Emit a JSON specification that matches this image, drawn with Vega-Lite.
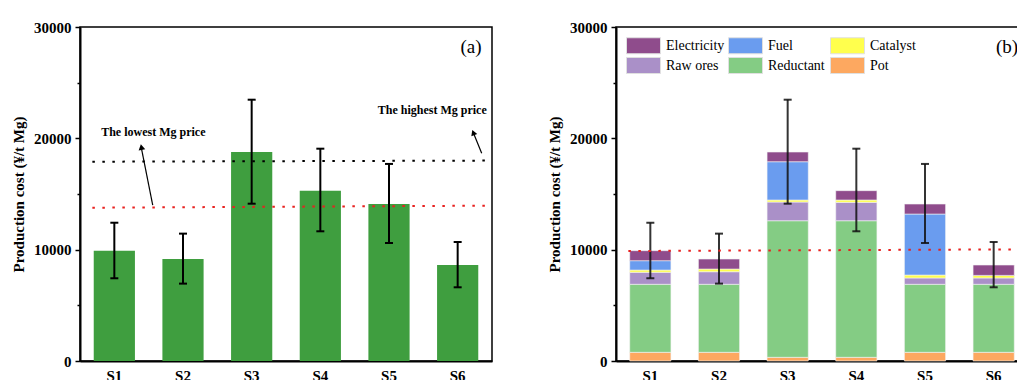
{
  "$schema": "https://vega.github.io/schema/vega-lite/v6.json",
  "padding": {"left": 10, "top": 19, "right": 0, "bottom": 0},
  "spacing": 53,
  "resolve": {"scale": {"color": "independent"}, "legend": {"color": "independent"}},
  "datasets": {
    "costs": [
      {"scenario": "S1", "total": 9910, "low": 7430, "high": 12420},
      {"scenario": "S2", "total": 9160, "low": 6950, "high": 11440},
      {"scenario": "S3", "total": 18770, "low": 14130, "high": 23470},
      {"scenario": "S4", "total": 15300, "low": 11650, "high": 19070},
      {"scenario": "S5", "total": 14100, "low": 10600, "high": 17700},
      {"scenario": "S6", "total": 8620, "low": 6620, "high": 10690}
    ],
    "parts": [
      {"scenario": "S1", "component": "Pot", "value": 780},
      {"scenario": "S1", "component": "Reductant", "value": 6110},
      {"scenario": "S1", "component": "Raw ores", "value": 1080},
      {"scenario": "S1", "component": "Catalyst", "value": 200},
      {"scenario": "S1", "component": "Fuel", "value": 840},
      {"scenario": "S1", "component": "Electricity", "value": 900},
      {"scenario": "S2", "component": "Pot", "value": 780},
      {"scenario": "S2", "component": "Reductant", "value": 6110},
      {"scenario": "S2", "component": "Raw ores", "value": 1130},
      {"scenario": "S2", "component": "Catalyst", "value": 240},
      {"scenario": "S2", "component": "Electricity", "value": 900},
      {"scenario": "S3", "component": "Pot", "value": 330},
      {"scenario": "S3", "component": "Reductant", "value": 12270},
      {"scenario": "S3", "component": "Raw ores", "value": 1680},
      {"scenario": "S3", "component": "Catalyst", "value": 180},
      {"scenario": "S3", "component": "Fuel", "value": 3440},
      {"scenario": "S3", "component": "Electricity", "value": 870},
      {"scenario": "S4", "component": "Pot", "value": 330},
      {"scenario": "S4", "component": "Reductant", "value": 12270},
      {"scenario": "S4", "component": "Raw ores", "value": 1650},
      {"scenario": "S4", "component": "Catalyst", "value": 210},
      {"scenario": "S4", "component": "Electricity", "value": 840},
      {"scenario": "S5", "component": "Pot", "value": 780},
      {"scenario": "S5", "component": "Reductant", "value": 6110},
      {"scenario": "S5", "component": "Raw ores", "value": 570},
      {"scenario": "S5", "component": "Catalyst", "value": 260},
      {"scenario": "S5", "component": "Fuel", "value": 5480},
      {"scenario": "S5", "component": "Electricity", "value": 900},
      {"scenario": "S6", "component": "Pot", "value": 780},
      {"scenario": "S6", "component": "Reductant", "value": 6110},
      {"scenario": "S6", "component": "Raw ores", "value": 570},
      {"scenario": "S6", "component": "Catalyst", "value": 230},
      {"scenario": "S6", "component": "Electricity", "value": 930}
    ],
    "lines": [
      {"line": "a_black", "fx": 0.03, "y": 17900},
      {"line": "a_black", "fx": 0.988, "y": 18000},
      {"line": "a_red", "fx": 0.03, "y": 13770},
      {"line": "a_red", "fx": 0.988, "y": 13950},
      {"line": "b_red", "fx": 0.03, "y": 9880},
      {"line": "b_red", "fx": 1.0, "y": 10030},
      {"line": "arrow1", "fx": 0.1765, "y": 14000},
      {"line": "arrow1", "fx": 0.149, "y": 19130},
      {"line": "arrow2", "fx": 0.975, "y": 18660},
      {"line": "arrow2", "fx": 0.955, "y": 20480}
    ],
    "notes": [
      {"id": "low", "fx": 0.178, "y": 20600, "label": "The lowest Mg price"},
      {"id": "high", "fx": 0.855, "y": 22550, "label": "The highest Mg price"},
      {"id": "head1", "fx": 0.149, "y": 19220, "label": ""},
      {"id": "head2", "fx": 0.9546, "y": 20520, "label": ""},
      {"id": "pa", "fx": 0.949, "y": 28200, "label": "(a)"},
      {"id": "pb", "fx": 0.949, "y": 28200, "label": "(b)"}
    ]
  },
  "config": {
    "font": "Liberation Serif",
    "view": {"stroke": "black", "strokeWidth": 1.5},
    "legend": {"labelFont": "Liberation Serif", "titleFont": "Liberation Serif"},
    "text": {"font": "Liberation Serif"},
    "axis": {
      "domainColor": "black", "domainWidth": 2, "tickColor": "black", "tickWidth": 1.5,
      "labelColor": "black", "titleColor": "black", "grid": false,
      "labelFont": "Liberation Serif", "titleFont": "Liberation Serif",
      "labelFontWeight": "bold", "labelFontSize": 15, "titleFontSize": 15, "titleFontWeight": "bold"
    }
  },
  "hconcat": [
    {
      "width": 412, "height": 334,
      "layer": [
        {
          "data": {"name": "costs"},
          "layer": [
            {
              "mark": {"type": "bar", "color": "#3F9E3F"},
              "encoding": {
                "x": {"field": "scenario", "type": "nominal", "scale": {"paddingInner": 0.4, "paddingOuter": 0.2}, "axis": {"title": null, "labelAngle": 0, "ticks": false, "labelPadding": 7}},
                "y": {"field": "total", "type": "quantitative", "scale": {"domain": [0, 30000], "nice": false},
                  "axis": {"title": "Production cost (¥/t Mg)", "values": [0, 5000, 10000, 15000, 20000, 25000, 30000],
                    "labelExpr": "datum.value % 10000 === 0 ? datum.value : ''",
                    "tickSize": {"condition": {"test": "datum.value % 10000 === 0", "value": 5}, "value": 3},
                    "labelPadding": 4, "titlePadding": 7}}
              }
            },
            {
              "mark": {"type": "rule", "color": "black", "strokeWidth": 2},
              "encoding": {"x": {"field": "scenario", "type": "nominal"}, "y": {"field": "low", "type": "quantitative"}, "y2": {"field": "high"}}
            },
            {
              "mark": {"type": "tick", "color": "black", "thickness": 2, "size": 8, "opacity": 1},
              "encoding": {"x": {"field": "scenario", "type": "nominal"}, "y": {"field": "low", "type": "quantitative"}}
            },
            {
              "mark": {"type": "tick", "color": "black", "thickness": 2, "size": 8, "opacity": 1},
              "encoding": {"x": {"field": "scenario", "type": "nominal"}, "y": {"field": "high", "type": "quantitative"}}
            }
          ]
        },
        {
          "data": {"name": "lines"},
          "layer": [
            {
              "transform": [{"filter": "datum.line === 'a_black'"}],
              "mark": {"type": "line", "color": "black", "strokeDash": [2.5, 7.5], "strokeWidth": 2},
              "encoding": {"x": {"field": "fx", "type": "quantitative", "scale": {"domain": [0, 1], "nice": false, "zero": false}, "axis": null}, "y": {"field": "y", "type": "quantitative"}}
            },
            {
              "transform": [{"filter": "datum.line === 'a_red'"}],
              "mark": {"type": "line", "color": "#E8211F", "strokeDash": [2.5, 7.5], "strokeWidth": 2},
              "encoding": {"x": {"field": "fx", "type": "quantitative", "scale": {"domain": [0, 1], "nice": false, "zero": false}, "axis": null}, "y": {"field": "y", "type": "quantitative"}}
            },
            {
              "transform": [{"filter": "datum.line === 'arrow1' || datum.line === 'arrow2'"}],
              "mark": {"type": "line", "color": "black", "strokeWidth": 1.2},
              "encoding": {"x": {"field": "fx", "type": "quantitative", "scale": {"domain": [0, 1], "nice": false, "zero": false}, "axis": null}, "y": {"field": "y", "type": "quantitative"}, "detail": {"field": "line"}}
            }
          ]
        },
        {
          "data": {"name": "notes"},
          "layer": [
            {
              "transform": [{"filter": "datum.id === 'low' || datum.id === 'high'"}],
              "mark": {"type": "text", "fontWeight": "bold", "fontSize": 12, "color": "black", "font": "Liberation Serif"},
              "encoding": {"x": {"field": "fx", "type": "quantitative", "scale": {"domain": [0, 1], "nice": false, "zero": false}, "axis": null}, "y": {"field": "y", "type": "quantitative"}, "text": {"field": "label"}}
            },
            {
              "transform": [{"filter": "datum.id === 'head1'"}],
              "mark": {"type": "point", "shape": "triangle-up", "filled": true, "color": "black", "size": 45, "opacity": 1, "angle": 349},
              "encoding": {"x": {"field": "fx", "type": "quantitative", "scale": {"domain": [0, 1], "nice": false, "zero": false}, "axis": null}, "y": {"field": "y", "type": "quantitative"}}
            },
            {
              "transform": [{"filter": "datum.id === 'head2'"}],
              "mark": {"type": "point", "shape": "triangle-up", "filled": true, "color": "black", "size": 40, "opacity": 1, "angle": 339},
              "encoding": {"x": {"field": "fx", "type": "quantitative", "scale": {"domain": [0, 1], "nice": false, "zero": false}, "axis": null}, "y": {"field": "y", "type": "quantitative"}}
            },
            {
              "transform": [{"filter": "datum.id === 'pa'"}],
              "mark": {"type": "text", "fontSize": 19, "color": "black", "font": "Liberation Serif"},
              "encoding": {"x": {"field": "fx", "type": "quantitative", "scale": {"domain": [0, 1], "nice": false, "zero": false}, "axis": null}, "y": {"field": "y", "type": "quantitative"}, "text": {"field": "label"}}
            }
          ]
        }
      ],
      "resolve": {"scale": {"x": "independent"}}
    },
    {
      "width": 412, "height": 334,
      "layer": [
        {
          "layer": [
            {
              "data": {"name": "parts"},
              "transform": [{"calculate": "indexof(['Pot','Reductant','Raw ores','Catalyst','Fuel','Electricity'], datum.component)", "as": "stackorder"}],
              "mark": {"type": "bar", "stroke": "#f4f4f4", "strokeWidth": 0.6},
              "encoding": {
                "x": {"field": "scenario", "type": "nominal", "scale": {"paddingInner": 0.4, "paddingOuter": 0.2}, "axis": {"title": null, "labelAngle": 0, "ticks": false, "labelPadding": 7}},
                "y": {"field": "value", "type": "quantitative", "stack": "zero", "scale": {"domain": [0, 30000], "nice": false},
                  "axis": {"title": "Production cost (¥/t Mg)", "values": [0, 5000, 10000, 15000, 20000, 25000, 30000],
                    "labelExpr": "datum.value % 10000 === 0 ? datum.value : ''",
                    "tickSize": {"condition": {"test": "datum.value % 10000 === 0", "value": 5}, "value": 3},
                    "labelPadding": 4, "titlePadding": 7}},
                "color": {"field": "component", "type": "nominal",
                  "scale": {"domain": ["Electricity", "Fuel", "Catalyst", "Raw ores", "Reductant", "Pot"],
                    "range": ["#8F4C8C", "#6A9CEF", "#FFFF4D", "#AA90C8", "#84CC84", "#FDA860"]},
                  "legend": {"title": null, "orient": "none", "legendX": 19, "legendY": 10, "columns": 3, "direction": "horizontal",
                    "symbolType": "M-2.125,-1H2.125V1H-2.125Z", "symbolSize": 256, "symbolStrokeColor": "#e0e0e0", "symbolStrokeWidth": 1, "symbolOpacity": 1,
                    "labelFont": "Liberation Serif", "labelFontSize": 14, "labelColor": "black", "labelOffset": 14,
                    "rowPadding": -1, "columnPadding": 1, "gridAlign": "all"}},
                "order": {"field": "stackorder", "type": "quantitative"}
              }
            },
            {
              "data": {"name": "costs"},
              "mark": {"type": "rule", "color": "#111", "strokeWidth": 2, "opacity": 0.85},
              "encoding": {"x": {"field": "scenario", "type": "nominal"}, "y": {"field": "low", "type": "quantitative"}, "y2": {"field": "high"}}
            },
            {
              "data": {"name": "costs"},
              "mark": {"type": "tick", "color": "#111", "thickness": 2, "size": 8, "opacity": 0.85},
              "encoding": {"x": {"field": "scenario", "type": "nominal"}, "y": {"field": "low", "type": "quantitative"}}
            },
            {
              "data": {"name": "costs"},
              "mark": {"type": "tick", "color": "#111", "thickness": 2, "size": 8, "opacity": 0.85},
              "encoding": {"x": {"field": "scenario", "type": "nominal"}, "y": {"field": "high", "type": "quantitative"}}
            }
          ]
        },
        {
          "data": {"name": "lines"},
          "transform": [{"filter": "datum.line === 'b_red'"}],
          "mark": {"type": "line", "color": "#E8211F", "strokeDash": [2.5, 7.5], "strokeWidth": 2},
          "encoding": {"x": {"field": "fx", "type": "quantitative", "scale": {"domain": [0, 1], "nice": false, "zero": false}, "axis": null}, "y": {"field": "y", "type": "quantitative"}}
        },
        {
          "data": {"name": "notes"},
          "transform": [{"filter": "datum.id === 'pb'"}],
          "mark": {"type": "text", "fontSize": 19, "color": "black", "font": "Liberation Serif"},
          "encoding": {"x": {"field": "fx", "type": "quantitative", "scale": {"domain": [0, 1], "nice": false, "zero": false}, "axis": null}, "y": {"field": "y", "type": "quantitative"}, "text": {"field": "label"}}
        }
      ],
      "resolve": {"scale": {"x": "independent"}}
    }
  ]
}
